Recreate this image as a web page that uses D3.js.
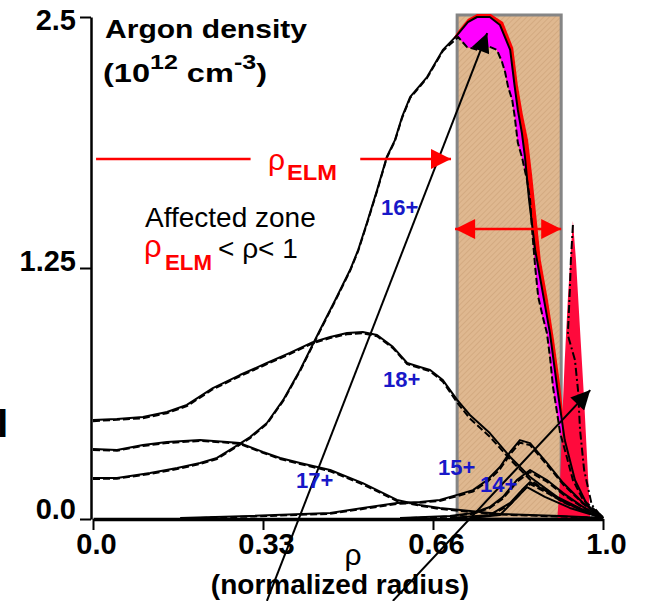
<!DOCTYPE html>
<html>
<head>
<meta charset="utf-8">
<script src="https://cdn.jsdelivr.net/npm/d3@7"></script>
<style>
    body { margin: 0; background: #fff; }
    svg { display: block; font-family: "Liberation Sans", Arial, sans-serif; }
</style>
</head>
<body>
<svg id="chart"></svg>
<script>
// axis ticks
const rhoTicks = [0, 1 / 3, 2 / 3, 1];
const rhoTickLabels = ['0.0', '0.33', '0.66', '1.0'];
const densTicks = [0, 1.25, 2.5];
const densTickLabels = ['0.0', '1.25', '2.5'];

// ELM affected zone, rho_ELM < rho < edge
const elmZone = [0.714, 0.918];

// Argon charge state profiles, [rho, density 1e12 cm-3]
// solid = before ELM, dashed = after ELM
const ar18 = [[0.000,0.493],[0.047,0.498],[0.098,0.508],[0.145,0.533],[0.184,0.568],[0.235,0.652],[0.288,0.717],[0.341,0.777],[0.386,0.827],[0.431,0.881],[0.465,0.906],[0.498,0.926],[0.529,0.931],[0.557,0.916],[0.588,0.857],[0.616,0.777],[0.641,0.757],[0.661,0.742],[0.686,0.692],[0.714,0.593],[0.739,0.518],[0.778,0.428],[0.818,0.309],[0.857,0.209],[0.910,0.110],[0.961,0.045],[1.000,0.005]];
const ar18Dash = [[0.000,0.487],[0.047,0.494],[0.098,0.502],[0.145,0.527],[0.184,0.562],[0.235,0.646],[0.288,0.711],[0.341,0.771],[0.386,0.821],[0.431,0.875],[0.465,0.901],[0.498,0.920],[0.529,0.925],[0.557,0.910],[0.588,0.851],[0.616,0.771],[0.641,0.751],[0.661,0.736],[0.686,0.684],[0.714,0.580],[0.739,0.500],[0.778,0.410],[0.818,0.296],[0.857,0.196],[0.910,0.102],[0.961,0.040],[1.000,0.005]];

const ar17 = [[0.000,0.349],[0.047,0.344],[0.098,0.369],[0.145,0.383],[0.210,0.393],[0.263,0.383],[0.288,0.378],[0.333,0.334],[0.367,0.304],[0.406,0.279],[0.465,0.244],[0.529,0.179],[0.596,0.095],[0.641,0.070],[0.680,0.055],[0.720,0.045],[0.798,0.025],[0.916,0.015],[1.000,0.005]];
const ar17Dash = [[0.000,0.344],[0.047,0.340],[0.098,0.364],[0.145,0.378],[0.210,0.389],[0.263,0.380],[0.288,0.374],[0.333,0.330],[0.367,0.299],[0.406,0.274],[0.465,0.238],[0.529,0.172],[0.596,0.090],[0.641,0.066],[0.680,0.050],[0.720,0.040],[0.798,0.022],[0.916,0.012],[1.000,0.005]];

const ar16 = [[0.000,0.204],[0.047,0.204],[0.112,0.229],[0.165,0.254],[0.210,0.279],[0.243,0.304],[0.275,0.354],[0.308,0.408],[0.341,0.478],[0.373,0.593],[0.406,0.742],[0.445,0.941],[0.475,1.091],[0.504,1.240],[0.520,1.340],[0.537,1.474],[0.557,1.638],[0.576,1.803],[0.592,1.887],[0.606,2.002],[0.622,2.102],[0.655,2.201],[0.686,2.336],[0.714,2.410],[0.735,2.475],[0.753,2.500],[0.778,2.500],[0.798,2.460],[0.818,2.336],[0.827,2.151],[0.833,2.037],[0.841,1.922],[0.847,1.803],[0.855,1.589],[0.867,1.340],[0.882,1.125],[0.896,0.926],[0.910,0.657],[0.925,0.393],[0.945,0.194],[0.969,0.070],[1.000,0.005]];
const ar16Dash = [[0.000,0.199],[0.047,0.201],[0.112,0.224],[0.165,0.249],[0.210,0.274],[0.243,0.299],[0.275,0.349],[0.308,0.403],[0.341,0.473],[0.373,0.588],[0.406,0.737],[0.445,0.936],[0.475,1.086],[0.504,1.235],[0.520,1.335],[0.537,1.469],[0.557,1.633],[0.576,1.798],[0.592,1.882],[0.606,1.997],[0.622,2.097],[0.655,2.196],[0.686,2.331],[0.716,2.400],[0.733,2.351],[0.755,2.336],[0.778,2.351],[0.792,2.336],[0.802,2.276],[0.808,2.226],[0.814,2.151],[0.822,2.087],[0.827,2.002],[0.833,1.873],[0.841,1.803],[0.851,1.688],[0.857,1.589],[0.861,1.439],[0.867,1.255],[0.873,1.106],[0.882,1.006],[0.890,0.926],[0.896,0.807],[0.902,0.657],[0.910,0.528],[0.916,0.428],[0.929,0.309],[0.941,0.194],[0.961,0.095],[1.000,0.010]];
// outer edge of the change around the 16+ peak
const ar16Elm = [[0.704,2.386],[0.716,2.430],[0.735,2.490],[0.753,2.515],[0.780,2.515],[0.804,2.475],[0.824,2.346],[0.833,2.161],[0.843,2.012],[0.853,1.887],[0.861,1.713],[0.869,1.514],[0.878,1.290],[0.892,1.091],[0.904,0.891],[0.916,0.667],[0.925,0.443]];

const ar15 = [[0.171,0.005],[0.308,0.015],[0.465,0.030],[0.529,0.055],[0.596,0.080],[0.641,0.085],[0.680,0.095],[0.714,0.120],[0.745,0.144],[0.773,0.194],[0.798,0.259],[0.818,0.334],[0.837,0.393],[0.857,0.378],[0.890,0.279],[0.922,0.179],[0.961,0.080],[1.000,0.005]];
const ar15Dash = [[0.171,0.003],[0.308,0.012],[0.465,0.026],[0.529,0.050],[0.596,0.075],[0.641,0.081],[0.680,0.090],[0.714,0.114],[0.745,0.137],[0.773,0.185],[0.798,0.248],[0.818,0.322],[0.837,0.380],[0.857,0.368],[0.890,0.270],[0.922,0.172],[0.961,0.076],[1.000,0.005]];

const ar14 = [[0.602,0.005],[0.700,0.015],[0.745,0.030],[0.778,0.060],[0.804,0.110],[0.831,0.194],[0.857,0.244],[0.890,0.194],[0.922,0.129],[0.961,0.060],[1.000,0.005]];
const ar14Dash = [[0.602,0.003],[0.700,0.012],[0.745,0.026],[0.778,0.054],[0.804,0.102],[0.831,0.184],[0.857,0.234],[0.890,0.186],[0.922,0.122],[0.961,0.056],[1.000,0.005]];

const ar13 = [[0.700,0.005],[0.778,0.020],[0.818,0.080],[0.841,0.144],[0.857,0.184],[0.886,0.144],[0.925,0.085],[0.965,0.040],[1.000,0.005]];
const ar13Dash = [[0.700,0.003],[0.778,0.016],[0.818,0.072],[0.841,0.134],[0.857,0.174],[0.886,0.136],[0.925,0.080],[0.965,0.036],[1.000,0.005]];
const ar12 = [[0.739,0.005],[0.798,0.020],[0.827,0.095],[0.851,0.159],[0.886,0.110],[0.935,0.055],[1.000,0.005]];

// narrow edge peak that appears after the ELM
const edgeSpike = [[0.941,1.484],[0.947,1.290],[0.955,0.941],[0.963,0.593],[0.969,0.294],[0.975,0.000],[0.910,-0.010],[0.916,0.194],[0.920,0.493],[0.925,0.792],[0.931,1.091],[0.937,1.340]];
const edgeSpikeDash = [[0.941,1.464],[0.937,1.290],[0.935,1.140],[0.931,0.916],[0.945,0.792],[0.951,0.642],[0.955,0.443],[0.963,0.244],[0.978,0.070],[1.000,0.005]];

// black pointer lines [from, to]
const pointers = [
    [[0.341, -0.408], [0.773, 2.420]],
    [[0.588, -0.408], [0.975, 0.642]]
];

const chargeLabels = ['18+', '17+', '16+', '15+', '14+'];

class ArgonChart {
    constructor(_config) {
        this.config = {
            parentElement: _config.parentElement,
            containerWidth: _config.containerWidth || 645,
            containerHeight: _config.containerHeight || 601
        };
        this.initVis();
    }

    initVis() {
        let vis = this;

        vis.svg = d3.select(vis.config.parentElement)
            .attr('width', vis.config.containerWidth)
            .attr('height', vis.config.containerHeight);

        vis.xScale = d3.scaleLinear().domain([0, 1]).range([93, 603]);
        vis.yScale = d3.scaleLinear().domain([0, 2.5]).range([519, 17]);

        vis.line = d3.line()
            .x(d => vis.xScale(d[0]))
            .y(d => vis.yScale(d[1]));

        const defs = vis.svg.append('defs');

        // hatched fill for the affected zone
        const pat = defs.append('pattern')
            .attr('id', 'hatch')
            .attr('patternUnits', 'userSpaceOnUse')
            .attr('width', 4).attr('height', 4)
            .attr('patternTransform', 'rotate(45)');
        pat.append('rect').attr('width', 4).attr('height', 4).attr('fill', '#dfb890');
        pat.append('line')
            .attr('x1', 0).attr('y1', 0).attr('x2', 0).attr('y2', 4)
            .attr('stroke', '#d0a57c').attr('stroke-width', 1.5);

        const addHead = (id, color, w, h) => {
            defs.append('marker')
                .attr('id', id)
                .attr('viewBox', '0 0 10 10')
                .attr('refX', 10).attr('refY', 5)
                .attr('markerUnits', 'userSpaceOnUse')
                .attr('markerWidth', w).attr('markerHeight', h)
                .attr('orient', 'auto-start-reverse')
                .append('path')
                .attr('d', 'M0,0L10,5L0,10Z')
                .attr('fill', color);
        };
        addHead('head-red', '#ff0000', 28, 20);
        addHead('head-black', '#000', 27, 19);

        vis.chart = vis.svg.append('g');
    }

    renderVis() {
        let vis = this;
        const x = vis.xScale, y = vis.yScale;

        // affected zone
        vis.chart.append('rect')
            .attr('x', x(elmZone[0]))
            .attr('y', y(2.51))
            .attr('width', x(elmZone[1]) - x(elmZone[0]))
            .attr('height', y(0) - y(2.51))
            .attr('fill', 'url(#hatch)')
            .attr('stroke', '#858585')
            .attr('stroke-width', 3);

        // change around 16+ peak
        const inZone = d => d[0] >= 0.70 && d[0] <= 0.93;
        const dashPart = ar16Dash.filter(inZone).reverse();
        vis.chart.append('path')
            .attr('d', vis.line(ar16Elm.concat(dashPart)) + 'Z')
            .attr('fill', '#ff0000');
        vis.chart.append('path')
            .attr('d', vis.line(ar16.filter(inZone).concat(dashPart)) + 'Z')
            .attr('fill', '#ff00ff');

        vis.chart.append('path')
            .attr('d', vis.line(edgeSpike) + 'Z')
            .attr('fill', '#ff0a3c');

        // profiles
        const solids = [ar18, ar17, ar16, ar15, ar14, ar13, ar12];
        const dashes = [ar18Dash, ar17Dash, ar16Dash, ar15Dash, ar14Dash, ar13Dash];

        vis.chart.selectAll('.dash')
            .data(dashes)
            .join('path')
            .attr('class', 'dash')
            .attr('d', vis.line)
            .attr('fill', 'none')
            .attr('stroke', '#000')
            .attr('stroke-width', 2)
            .attr('stroke-dasharray', '7,3');

        vis.chart.append('path')
            .attr('d', vis.line(edgeSpikeDash))
            .attr('fill', 'none')
            .attr('stroke', '#000')
            .attr('stroke-width', 2)
            .attr('stroke-dasharray', '8,3,2,3');

        vis.chart.selectAll('.solid')
            .data(solids)
            .join('path')
            .attr('class', 'solid')
            .attr('d', vis.line)
            .attr('fill', 'none')
            .attr('stroke', '#000')
            .attr('stroke-width', 2)
            .attr('stroke-linejoin', 'round');

        // axes
        const yAxis = d3.axisLeft(y)
            .tickValues(densTicks)
            .tickFormat((d, i) => densTickLabels[i])
            .tickSize(11).tickSizeOuter(0).tickPadding(4);
        const yG = vis.svg.append('g')
            .attr('transform', 'translate(91,0)')
            .call(yAxis);
        yG.select('.domain').attr('stroke-width', 2.5);
        yG.selectAll('.tick line').attr('stroke-width', 2);
        yG.selectAll('.tick text')
            .attr('y', (d, i) => [-10, -7, 3][i])
            .attr('font-size', 29).attr('font-weight', 'bold')
            .attr('font-family', '"Liberation Sans", Arial, sans-serif')
            .attr('fill', '#000');

        const xAxis = d3.axisBottom(x)
            .tickValues(rhoTicks)
            .tickFormat((d, i) => rhoTickLabels[i])
            .tickSize(11).tickSizeOuter(0).tickPadding(3);
        const xG = vis.svg.append('g')
            .attr('transform', `translate(0,${y(0)})`)
            .call(xAxis);
        xG.select('.domain').attr('stroke-width', 3.5);
        xG.selectAll('.tick line').attr('stroke-width', 2);
        xG.selectAll('.tick text')
            .attr('dx', 3)
            .attr('font-size', 29).attr('font-weight', 'bold')
            .attr('font-family', '"Liberation Sans", Arial, sans-serif')
            .attr('fill', '#000');

        // pointer lines
        vis.svg.selectAll('.pointer')
            .data(pointers)
            .join('line')
            .attr('class', 'pointer')
            .attr('x1', d => x(d[0][0])).attr('y1', d => y(d[0][1]))
            .attr('x2', d => x(d[1][0])).attr('y2', d => y(d[1][1]))
            .attr('stroke', '#000')
            .attr('stroke-width', 2)
            .attr('marker-end', 'url(#head-black)');

        // rho_ELM arrows
        vis.svg.append('line')
            .attr('x1', x(0.006)).attr('x2', x(0.309))
            .attr('y1', y(1.793)).attr('y2', y(1.793))
            .attr('stroke', '#ff0000').attr('stroke-width', 2.5);
        vis.svg.append('line')
            .attr('x1', x(0.524)).attr('x2', x(0.702))
            .attr('y1', y(1.793)).attr('y2', y(1.793))
            .attr('stroke', '#ff0000').attr('stroke-width', 2.5)
            .attr('marker-end', 'url(#head-red)');
        vis.svg.append('line')
            .attr('x1', x(elmZone[0] - 0.004)).attr('x2', x(elmZone[1]))
            .attr('y1', y(1.444)).attr('y2', y(1.444))
            .attr('stroke', '#ff0000').attr('stroke-width', 2.5)
            .attr('marker-start', 'url(#head-red)')
            .attr('marker-end', 'url(#head-red)');

        // texts
        const txt = (s, px, py, size, opts = {}) => vis.svg.append('text')
            .attr('x', px).attr('y', py)
            .attr('font-size', size)
            .attr('font-weight', opts.bold ? 'bold' : 'normal')
            .attr('fill', opts.fill || '#000')
            .attr('text-anchor', opts.anchor || 'start')
            .text(s);

        txt('Argon density', 105, 38, 26, {bold: true})
            .attr('textLength', 202).attr('lengthAdjust', 'spacingAndGlyphs');
        const unit = vis.svg.append('text')
            .attr('x', 103).attr('y', 82)
            .attr('font-size', 26).attr('font-weight', 'bold')
            .attr('textLength', 164).attr('lengthAdjust', 'spacingAndGlyphs');
        unit.append('tspan').text('(10');
        unit.append('tspan').attr('font-size', 20).attr('dy', -13).text('12');
        unit.append('tspan').attr('dy', 13).text(' cm');
        unit.append('tspan').attr('font-size', 20).attr('dy', -13).text('-3');
        unit.append('tspan').attr('dy', 13).text(')');

        txt('ρ', 268, 170, 30, {fill: '#ff0000'});
        txt('ELM', 287, 180, 22, {bold: true, fill: '#ff0000'})
            .attr('textLength', 50).attr('lengthAdjust', 'spacingAndGlyphs');

        txt('Affected zone', 145, 227, 28);
        txt('ρ', 144, 257, 31, {fill: '#ff0000'});
        txt('ELM', 165, 270, 22, {bold: true, fill: '#ff0000'})
            .attr('textLength', 47).attr('lengthAdjust', 'spacingAndGlyphs');
        txt('< ρ< 1', 218, 258, 28);

        // charge state labels
        const labelSpots = [[383, 387], [296, 488], [381, 215], [438, 475], [480, 492]];
        chargeLabels.forEach((s, i) => {
            txt(s, labelSpots[i][0], labelSpots[i][1], 22, {bold: true, fill: '#1818c8'});
        });

        // axis titles
        txt('ρ', 353, 565, 30, {anchor: 'middle'});
        txt('(normalized radius)', 340, 594, 28, {bold: true, anchor: 'middle'});

        // clipped glyph at left border
        txt('I', -3, 437, 40, {bold: true});
    }
}

const chart = new ArgonChart({parentElement: '#chart'});
chart.renderVis();
</script>
</body>
</html>
